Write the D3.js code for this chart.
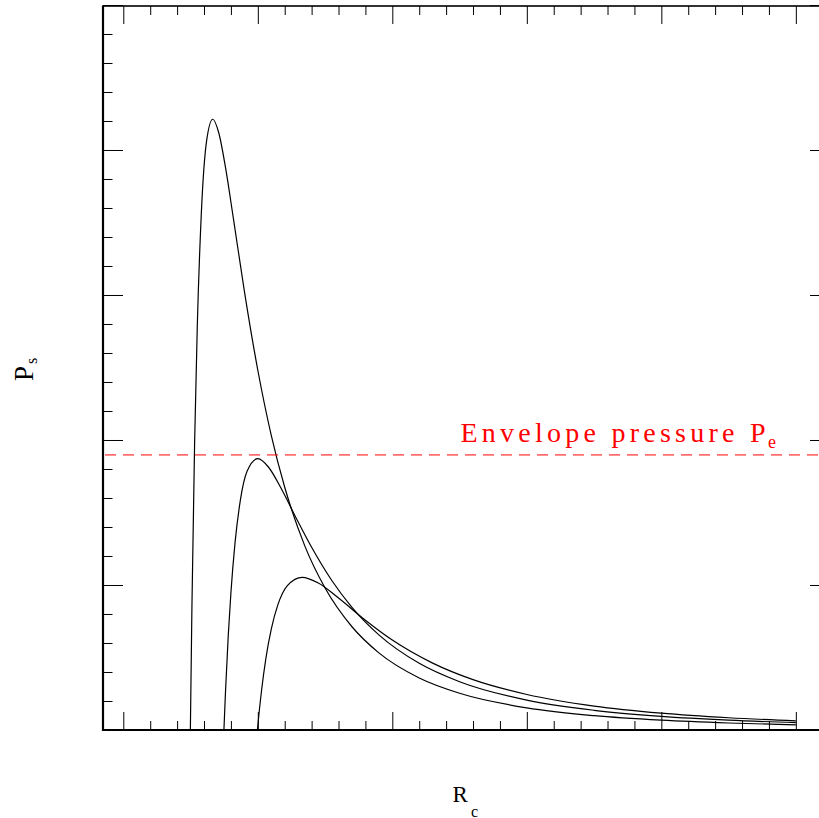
<!DOCTYPE html>
<html>
<head>
<meta charset="utf-8">
<script src="https://cdn.jsdelivr.net/npm/d3@7"></script>
<style>
  body { margin: 0; background: #fff; }
  svg { display: block; }
  text { font-family: "Liberation Serif", "DejaVu Serif", serif; }
</style>
</head>
<body>
<svg id="chart" width="819" height="818"></svg>
<script>
// surface pressure P_s against cloud radius R_c, three cloud masses
const rSmall = [0.4985, 0.51, 0.53, 0.55, 0.58, 0.62, 0.665, 0.71, 0.76, 0.82, 0.9, 1.0, 1.1, 1.2, 1.35, 1.5, 1.7, 1.9, 2.2, 2.5, 3.0, 3.5, 4.0, 4.5, 5.0];
const pSmall = [0, 0.841, 1.975, 2.784, 3.563, 4.068, 4.212, 4.117, 3.878, 3.518, 3.027, 2.481, 2.032, 1.674, 1.268, 0.979, 0.712, 0.532, 0.359, 0.2535, 0.1528, 0.0989, 0.0677, 0.0483, 0.0356];

const rMid = [0.748, 0.76, 0.78, 0.80, 0.83, 0.87, 0.92, 1.0, 1.08, 1.17, 1.28, 1.4, 1.55, 1.7, 1.9, 2.2, 2.5, 3.0, 3.5, 4.0, 4.5, 5.0];
const pMid = [0, 0.271, 0.646, 0.946, 1.285, 1.583, 1.784, 1.871, 1.812, 1.672, 1.471, 1.260, 1.031, 0.846, 0.656, 0.460, 0.333, 0.206, 0.136, 0.0943, 0.0679, 0.0505];

const rLarge = [0.997, 1.01, 1.03, 1.06, 1.1, 1.15, 1.22, 1.33, 1.45, 1.6, 1.8, 2.0, 2.3, 2.6, 3.0, 3.5, 4.0, 4.5, 5.0];
const pLarge = [0, 0.124, 0.290, 0.494, 0.696, 0.866, 0.996, 1.053, 1.014, 0.910, 0.757, 0.620, 0.461, 0.347, 0.245, 0.165, 0.116, 0.0845, 0.0634];

const envelopeP = 1.897;

const xMajor = [0, 1, 2, 3, 4, 5];
const yMajor = [0, 1, 2, 3, 4, 5];

const padL = 103, padR = 830, padT = 6, padB = 730;

const svg = d3.select('#chart');

const x = d3.scaleLinear().domain([-0.151, 5.254]).range([padL, padR]);
const y = d3.scaleLinear().domain([0, 4.993]).range([padB, padT]);

const xMinor = d3.range(0.2, 5.25, 0.2).filter(v => Math.abs(v - Math.round(v)) > 0.01);
const yMinor = d3.range(0.2, 4.95, 0.2).filter(v => Math.abs(v - Math.round(v)) > 0.01);

function ticks(axisFn, scale, values, size, tx, ty) {
  const g = svg.append('g')
    .attr('transform', `translate(${tx},${ty})`)
    .call(axisFn(scale).tickValues(values).tickSize(size).tickSizeOuter(0).tickFormat(''));
  g.select('.domain').remove();
  g.selectAll('line').attr('stroke', '#000').attr('stroke-width', 1);
}

// ticks point inward on all four sides
ticks(d3.axisBottom, x, xMajor, -18, 0, padB);
ticks(d3.axisBottom, x, xMinor, -9, 0, padB);
ticks(d3.axisTop, x, xMajor, -18, 0, padT);
ticks(d3.axisTop, x, xMinor, -9, 0, padT);
ticks(d3.axisLeft, y, yMajor.slice(1), -20, padL, 0);
ticks(d3.axisLeft, y, yMinor, -9.5, padL, 0);
ticks(d3.axisRight, y, yMajor.slice(1), -20, padR, 0);
ticks(d3.axisRight, y, yMinor, -9.5, padR, 0);

// frame
svg.append('rect')
  .attr('x', padL).attr('y', padT)
  .attr('width', padR - padL).attr('height', padB - padT)
  .attr('fill', 'none').attr('stroke', '#000').attr('stroke-width', 1.6);
svg.append('line')
  .attr('x1', padL).attr('x2', padL).attr('y1', padT).attr('y2', padB + 1)
  .attr('stroke', '#000').attr('stroke-width', 2.2);
svg.append('line')
  .attr('x1', padL - 1).attr('x2', padR).attr('y1', padB).attr('y2', padB)
  .attr('stroke', '#000').attr('stroke-width', 2.2);

const line = d3.line()
  .x(d => x(d[0]))
  .y(d => y(d[1]))
  .curve(d3.curveMonotoneX);

const curves = [
  d3.zip(rSmall, pSmall),
  d3.zip(rMid, pMid),
  d3.zip(rLarge, pLarge)
];

svg.selectAll('path.curve')
  .data(curves)
  .enter()
  .append('path')
  .classed('curve', true)
  .attr('d', line)
  .attr('fill', 'none')
  .attr('stroke', '#000')
  .attr('stroke-width', 1.2);

// envelope pressure
svg.append('line')
  .attr('x1', padL).attr('x2', padR)
  .attr('y1', y(envelopeP)).attr('y2', y(envelopeP))
  .attr('stroke', '#ff0000')
  .attr('stroke-width', 1)
  .attr('stroke-dasharray', '11,7')
  .attr('stroke-dashoffset', -2);

svg.append('text')
  .attr('x', 460.5).attr('y', y(envelopeP) - 13.3)
  .attr('font-size', 28)
  .attr('fill', '#ff0000')
  .attr('textLength', 305)
  .attr('lengthAdjust', 'spacing')
  .text('Envelope pressure P');
svg.append('text')
  .attr('x', 768).attr('y', y(envelopeP) - 6.7)
  .attr('font-size', 18)
  .attr('fill', '#ff0000')
  .text('e');

// axis labels
svg.append('text')
  .attr('transform', 'translate(33,381) rotate(-90)')
  .attr('font-size', 27)
  .attr('fill', '#000')
  .text('P');
svg.append('text')
  .attr('transform', 'translate(37,364) rotate(-90)')
  .attr('font-size', 16)
  .attr('fill', '#000')
  .text('s');

svg.append('text')
  .attr('x', 452.5).attr('y', 802)
  .attr('font-size', 23)
  .attr('fill', '#000')
  .text('R');
svg.append('text')
  .attr('x', 471).attr('y', 816.5)
  .attr('font-size', 16)
  .attr('fill', '#000')
  .text('c');
</script>
</body>
</html>
